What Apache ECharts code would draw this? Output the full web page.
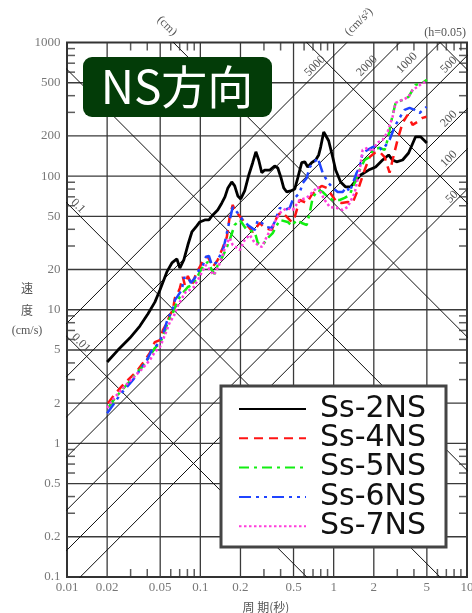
<!DOCTYPE html>
<html>
<head>
<meta charset="utf-8">
<script src="https://cdn.jsdelivr.net/npm/echarts@6/dist/echarts.min.js"></script>
<style>
  html, body { margin: 0; padding: 0; background: #fff; }
  #main { width: 472px; height: 613px; }
</style>
</head>
<body>
<div id="main"></div>
<script>
// 周期 (s) / 速度 (cm/s), h=0.05
var ss2 = [[0.020,4.06],[0.0241,4.99],[0.0296,6.14],[0.0352,7.55],[0.0404,9.29],[0.0456,11.4],[0.0497,14.0],[0.0561,19.2],
  [0.0612,22.4],[0.0667,24.0],[0.0702,20.5],[0.0752,23.6],[0.0806,30.5],[0.0864,38.2],[0.0941,42.4],[0.0991,45.4],
  [0.108,47.0],[0.116,47.0],[0.122,50.3],[0.135,55.8],[0.145,63.0],[0.153,69.9],[0.161,81.6],[0.172,90.5],[0.181,84.5],
  [0.191,71.1],[0.201,67.5],[0.215,77.5],[0.231,102],[0.247,126],[0.261,152],[0.274,132],[0.289,106],[0.304,111],
  [0.332,111],[0.361,119],[0.381,115],[0.401,98.6],[0.422,81.6],[0.445,76.1],[0.476,77.5],[0.511,80.2],[0.538,96.9],
  [0.576,126],[0.607,128],[0.639,117],[0.684,126],[0.733,132],[0.772,144],[0.799,165],[0.842,214],[0.917,184],
  [0.983,139],[1.035,111],[1.128,90.5],[1.230,83.0],[1.341,83.0],[1.461,92.0],[1.593,102],[1.829,111],[2.064,117],
  [2.328,132],[2.582,144],[2.766,132],[2.964,128],[3.288,132],[3.646,149],[4.114,197],[4.485,197],[5.0,177]];

var ss4 = [[0.0203,2.00],[0.0229,2.34],[0.0258,2.68],[0.0296,3.08],[0.0334,3.47],[0.0371,3.99],[0.0418,4.74],[0.0441,5.35],
  [0.0456,5.73],[0.0497,5.93],[0.0524,7.05],[0.0561,7.95],[0.0591,9.13],[0.0622,9.95],[0.0644,12.2],[0.0678,13.3],
  [0.0702,14.5],[0.0739,17.6],[0.0765,15.3],[0.0806,17.9],[0.0864,15.3],[0.0941,19.2],[0.0991,20.9],[0.108,24.8],
  [0.114,24.8],[0.124,20.9],[0.135,23.6],[0.147,29.0],[0.158,35.0],[0.166,49.5],[0.175,60.9],[0.181,55.8],[0.208,47.0],
  [0.227,42.4],[0.247,38.2],[0.279,44.6],[0.304,40.9],[0.343,39.5],[0.381,51.2],[0.408,53.9],[0.445,49.5],[0.485,45.4],
  [0.511,49.5],[0.556,66.3],[0.628,63.0],[0.684,72.3],[0.746,78.8],[0.813,84.5],[0.886,81.6],[0.966,72.3],[1.053,64.1],
  [1.148,63.0],[1.273,64.1],[1.388,63.0],[1.487,74.9],[1.566,85.9],[1.707,111],[1.861,139],[2.029,149],[2.211,152],
  [2.410,139],[2.627,106],[2.766,132],[3.015,187],[3.288,250],[3.584,287],[3.907,242],[4.258,255],[4.642,273],[4.97,278]];

var ss5 = [[0.0206,1.87],[0.0229,2.18],[0.0258,2.50],[0.0296,2.92],[0.0334,3.36],[0.0371,3.79],[0.0418,4.50],[0.0456,5.17],
  [0.0497,5.63],[0.0524,6.25],[0.0561,7.68],[0.0591,8.67],[0.0622,9.45],[0.0655,10.8],[0.0702,12.5],[0.0752,13.6],
  [0.0806,14.8],[0.0864,15.3],[0.0925,16.7],[0.0991,19.2],[0.106,21.6],[0.114,22.8],[0.122,19.8],[0.128,18.5],[0.135,21.6],
  [0.145,24.4],[0.155,28.0],[0.166,33.3],[0.181,43.1],[0.198,47.0],[0.223,39.5],[0.256,38.2],[0.270,31.6],[0.294,30.5],
  [0.320,34.4],[0.349,37.5],[0.394,47.0],[0.452,45.4],[0.485,42.4],[0.528,47.0],[0.576,44.6],[0.628,43.1],[0.661,53.0],
  [0.696,68.7],[0.759,78.8],[0.827,76.1],[0.902,69.9],[0.983,66.3],[1.109,66.3],[1.209,68.7],[1.318,72.3],[1.437,88.9],
  [1.566,111],[1.707,132],[1.861,139],[1.960,157],[2.211,163],[2.410,157],[2.538,187],[2.720,264],[2.913,353],
  [3.288,372],[3.646,392],[4.114,482],[4.642,499],[5.0,526]];

var ss6 = [[0.020,1.68],[0.0221,1.93],[0.0249,2.30],[0.0281,2.64],[0.0312,2.98],[0.0352,3.53],[0.0397,4.20],[0.0433,4.99],
  [0.0472,5.44],[0.0515,6.25],[0.0542,7.29],[0.0571,8.67],[0.0612,9.61],[0.0644,11.8],[0.0678,12.7],[0.0727,14.1],
  [0.0752,17.3],[0.0806,17.6],[0.0849,15.9],[0.0910,17.3],[0.0975,19.8],[0.104,21.2],[0.110,24.8],[0.116,25.3],
  [0.122,21.6],[0.131,22.4],[0.140,25.3],[0.150,29.5],[0.161,40.9],[0.175,58.8],[0.188,53.9],[0.208,47.0],[0.227,43.1],
  [0.256,39.5],[0.270,47.0],[0.289,44.6],[0.315,41.6],[0.343,40.9],[0.361,45.4],[0.394,57.8],[0.430,55.8],[0.468,57.8],
  [0.493,66.3],[0.556,74.9],[0.586,88.9],[0.628,96.9],[0.661,117],[0.721,128],[0.759,137],[0.827,106],[0.902,90.5],
  [0.983,81.6],[1.072,76.1],[1.168,76.1],[1.252,83.0],[1.318,76.1],[1.487,106],[1.566,117],[1.649,149],[1.798,157],
  [1.960,165],[2.136,171],[2.289,157],[2.410,165],[2.627,187],[2.864,234],[3.121,273],[3.402,313],[3.710,324],
  [4.045,313],[4.408,297],[4.97,330]];

var ss7 = [[0.020,1.84],[0.0225,2.18],[0.0254,2.50],[0.0286,2.83],[0.0323,3.19],[0.0365,3.60],[0.0418,4.20],[0.0456,4.82],
  [0.0497,5.25],[0.0524,5.93],[0.0561,7.05],[0.0591,8.09],[0.0633,8.97],[0.0678,10.7],[0.0727,12.2],[0.0779,13.6],
  [0.0834,14.1],[0.0894,14.8],[0.0958,16.7],[0.103,19.2],[0.110,21.6],[0.118,19.8],[0.126,18.2],[0.135,20.5],[0.145,24.4],
  [0.155,30.5],[0.166,34.4],[0.175,30.5],[0.198,28.0],[0.215,33.3],[0.235,36.3],[0.256,31.6],[0.289,29.5],[0.320,36.3],
  [0.349,42.4],[0.394,53.0],[0.445,57.8],[0.493,55.8],[0.556,66.3],[0.628,68.7],[0.696,76.1],[0.759,83.0],[0.856,66.3],
  [0.933,58.8],[1.053,57.8],[1.168,55.8],[1.273,58.8],[1.437,74.9],[1.566,111],[1.649,157],[1.798,163],[1.960,152],
  [2.100,177],[2.328,187],[2.538,214],[2.766,278],[2.913,353],[3.288,372],[3.646,392],[3.907,442],[4.258,466],
  [4.642,499],[5.0,508]];

var names = ['Ss-2NS', 'Ss-4NS', 'Ss-5NS', 'Ss-6NS', 'Ss-7NS'];

// 目盛
var xGrid = [0.02, 0.05, 0.1, 0.2, 0.5, 1, 2, 5];
var yGrid = [0.2, 0.5, 1, 2, 5, 10, 20, 50, 100, 200, 500];
var xLabels = [0.01, 0.02, 0.05, 0.1, 0.2, 0.5, 1, 2, 5, 10];
var yLabels = [0.1, 0.2, 0.5, 1, 2, 5, 10, 20, 50, 100, 200, 500, 1000];
var minorT = [0.03, 0.04, 0.06, 0.07, 0.08, 0.09, 0.3, 0.4, 0.6, 0.7, 0.8, 0.9, 3, 4, 6, 7, 8, 9];
var minorV = [0.3, 0.4, 0.6, 0.7, 0.8, 0.9, 3, 4, 6, 7, 8, 9, 30, 40, 60, 70, 80, 90, 300, 400, 600, 700, 800, 900];
// 変位 (cm), 加速度 (cm/s2)
var dispLines = [0.01, 0.1, 1, 10, 100, 1000];
var accLines = [50, 100, 200, 500, 1000, 2000, 5000];

var TWO_PI = 2 * Math.PI;
var series = [];

function gridLine(pts, width, color) {
  series.push({
    type: 'line', data: pts, symbol: 'none', silent: true, z: 1, animation: false,
    lineStyle: { color: color, width: width }
  });
}
xGrid.forEach(function (t) { gridLine([[t, 0.1], [t, 1000]], 1.3, '#3a3a3a'); });
yGrid.forEach(function (v) { gridLine([[0.01, v], [10, v]], 1.3, '#3a3a3a'); });
dispLines.forEach(function (d) {
  gridLine([[0.001, TWO_PI * d / 0.001], [100, TWO_PI * d / 100]], 1, '#111');
});
accLines.forEach(function (a) {
  gridLine([[0.001, a * 0.001 / TWO_PI], [100, a * 100 / TWO_PI]], 1, '#111');
});

function ticks(data, size, offset) {
  series.push({
    type: 'scatter', data: data, symbol: 'rect', symbolSize: size, symbolOffset: offset,
    itemStyle: { color: '#333' }, silent: true, clip: false, z: 3, animation: false
  });
}
ticks(minorT.map(function (t) { return [t, 0.1]; }), [1.5, 8], [0, -4]);
ticks(minorT.map(function (t) { return [t, 1000]; }), [1.5, 8], [0, 4]);
ticks(minorV.map(function (v) { return [0.01, v]; }), [8, 1.5], [4, 0]);
ticks(minorV.map(function (v) { return [10, v]; }), [8, 1.5], [-4, 0]);

var labelFont = { fontFamily: 'Liberation Serif', fontSize: 13, color: '#555' };
series.push({
  type: 'scatter', data: xLabels.map(function (t) { return [t, 0.1]; }), symbolSize: 1,
  itemStyle: { color: 'rgba(0,0,0,0)' }, silent: true, clip: false, animation: false,
  label: Object.assign({ show: true, position: 'bottom', distance: 4,
    formatter: function (p) { return String(p.value[0]); } }, labelFont)
});
series.push({
  type: 'scatter', data: yLabels.map(function (v) { return [0.01, v]; }), symbolSize: 1,
  itemStyle: { color: 'rgba(0,0,0,0)' }, silent: true, clip: false, animation: false,
  label: Object.assign({ show: true, position: 'left', distance: 6,
    formatter: function (p) { return String(p.value[1]); } }, labelFont)
});

var looks = [
  { data: ss2, color: '#000000', type: 'solid', width: 2.8 },
  { data: ss4, color: '#ff1414', type: [9, 6], width: 2.5 },
  { data: ss5, color: '#12ee12', type: [10, 5, 3, 5], width: 2.5 },
  { data: ss6, color: '#1f44ff', type: [12, 5, 3, 5, 3, 5], width: 2.5 },
  { data: ss7, color: '#ff3ddc', type: [2.5, 2.5], width: 2.5 }
];
looks.forEach(function (s, i) {
  series.push({
    name: names[i], type: 'line', data: s.data, symbol: 'none', z: 5, animation: false,
    color: s.color,
    lineStyle: { color: s.color, width: s.width, type: s.type }
  });
});

function txt(str, x, y, rot, opts) {
  return {
    type: 'text', x: x, y: y, rotation: rot || 0, z: 100,
    style: Object.assign({ text: str, fill: '#555', font: '12px "Liberation Serif"',
      align: 'center', verticalAlign: 'middle' }, opts || {})
  };
}
var Q = Math.PI / 4;

var option = {
  animation: false,
  grid: { left: 67, top: 42.5, width: 400, height: 534.5, show: true, borderColor: '#333', borderWidth: 2 },
  xAxis: { type: 'log', logBase: 10, min: 0.01, max: 10,
    axisLine: { show: false }, axisTick: { show: false }, axisLabel: { show: false }, splitLine: { show: false } },
  yAxis: { type: 'log', logBase: 10, min: 0.1, max: 1000,
    axisLine: { show: false }, axisTick: { show: false }, axisLabel: { show: false }, splitLine: { show: false } },
  legend: {
    data: names, orient: 'vertical', left: 238, top: 394, z: 120, selectedMode: false,
    padding: 0, itemWidth: 67, itemHeight: 12, itemGap: -0.7,
    itemStyle: { opacity: 0 },
    textStyle: { fontFamily: 'DejaVu Sans', fontSize: 30, color: '#111', padding: [0, 0, 0, 9] }
  },
  graphic: [
    { type: 'rect', z: 100, shape: { x: 221, y: 386, width: 225, height: 161 },
      style: { fill: '#fff', stroke: '#444', lineWidth: 3 } },
    { type: 'rect', z: 100, shape: { x: 83, y: 57, width: 189, height: 60, r: 9 },
      style: { fill: '#033c08' } },
    txt('NS方向', 177, 87, 0, { fill: '#fff', font: '46px "Noto Sans CJK JP"' }),
    txt('(h=0.05)', 466, 33, 0, { align: 'right' }),
    txt('(cm)', 167, 26, -Q),
    txt('(cm/s²)', 359, 22, Q),
    txt('0.1', 78, 206, -Q),
    txt('0.01', 81, 343, -Q),
    txt('5000', 315, 66, Q),
    txt('2000', 367, 66, Q),
    txt('1000', 407, 63, Q),
    txt('500', 449, 65, Q),
    txt('200', 449, 119, Q),
    txt('100', 449, 159, Q),
    txt('50', 452, 197, Q),
    txt('速', 27, 288, 0, { font: '12px "Noto Sans CJK JP"' }),
    txt('度', 27, 310, 0, { font: '12px "Noto Sans CJK JP"' }),
    txt('(cm/s)', 27, 331, 0),
    txt('周 期(秒)', 266, 607, 0, { font: '12px "Noto Sans CJK JP"' })
  ],
  series: series
};

var myChart = echarts.init(document.getElementById('main'));
myChart.setOption(option);
</script>
</body>
</html>
